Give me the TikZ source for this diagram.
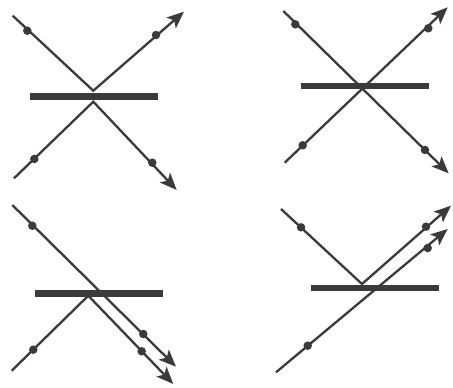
\documentclass[tikz,border=0pt]{standalone}
\usetikzlibrary{arrows.meta}
\definecolor{ink}{HTML}{3A3A3A}
\begin{document}
\begin{tikzpicture}[x=1pt,y=-1pt,
  ray/.style={draw=ink,line width=2.3pt},
  arr/.style={ray,-{Stealth[length=17pt,width=14pt,inset=4pt]}},
  mirror/.style={draw=ink,line width=6.5pt},
  dot/.style={circle,fill=ink,inner sep=0pt,minimum size=8.5pt}]
\useasboundingbox (0,0) rectangle (453,388);
% ---------- panel 1 ----------
\coordinate (p1a) at (12.7,15.7);
\coordinate (p1o) at (93.3,90.7);
\coordinate (p1t) at (184,11.7);
\coordinate (p1b) at (14,178.3);
\coordinate (p1u) at (93.3,101.7);
\coordinate (p1s) at (176.7,190);
\coordinate (m1l) at (30,96.7);
\coordinate (m1r) at (158,96.7);
\draw[mirror] (m1l) -- (m1r);
\draw[arr] (p1a) -- (p1o) -- (p1t);
\draw[arr] (p1b) -- (p1u) -- (p1s);
\node[dot] (d11) at (27.3,30.7) {};
\node[dot] (d12) at (156,35) {};
\node[dot] (d13) at (34.3,159) {};
\node[dot] (d14) at (152.3,162.7) {};
% ---------- panel 2 ----------
\coordinate (p2a) at (283.3,11);
\coordinate (p2t) at (448.7,173.3);
\coordinate (p2b) at (284.7,162.7);
\coordinate (p2s) at (447.7,7.3);
\coordinate (m2l) at (300.7,86);
\coordinate (m2r) at (428.7,86);
\draw[mirror] (m2l) -- (m2r);
\draw[arr] (p2a) -- (p2t);
\draw[arr] (p2b) -- (p2s);
\node[dot] (d21) at (295.3,24.3) {};
\node[dot] (d22) at (425,150) {};
\node[dot] (d23) at (302.7,145.3) {};
\node[dot] (d24) at (428.3,28.3) {};
% ---------- panel 3 ----------
\coordinate (p3a) at (12.3,205);
\coordinate (p3t) at (176,366.7);
\coordinate (p3b) at (11.7,370.7);
\coordinate (p3o) at (88.3,295.7);
\coordinate (p3s) at (173.3,384);
\coordinate (m3l) at (35,293.3);
\coordinate (m3r) at (163.3,293.3);
\draw[mirror] (m3l) -- (m3r);
\draw[arr] (p3a) -- (p3t);
\draw[arr] (p3b) -- (p3o) -- (p3s);
\node[dot] (d31) at (32.3,225.7) {};
\node[dot] (d32) at (143.3,334) {};
\node[dot] (d33) at (33.3,349.7) {};
\node[dot] (d34) at (141.7,351.3) {};
% ---------- panel 4 ----------
\coordinate (p4a) at (281,209);
\coordinate (p4o) at (362,284);
\coordinate (p4t) at (451,205.7);
\coordinate (p4b) at (276,372.3);
\coordinate (p4s) at (447.7,229);
\coordinate (m4l) at (311,288);
\coordinate (m4r) at (439.3,288);
\draw[mirror] (m4l) -- (m4r);
\draw[arr] (p4a) -- (p4o) -- (p4t);
\draw[arr] (p4b) -- (p4s);
\node[dot] (d41) at (301,227.3) {};
\node[dot] (d42) at (426,226.7) {};
\node[dot] (d43) at (307.7,345.7) {};
\node[dot] (d44) at (427.7,248) {};
\end{tikzpicture}
\end{document}
